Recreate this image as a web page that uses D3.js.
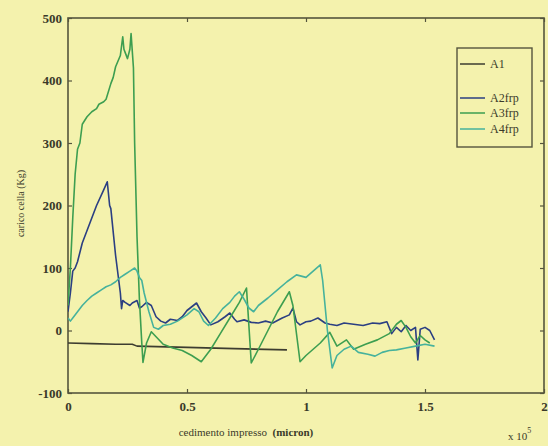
<!DOCTYPE html>
<html>
<head>
<meta charset="utf-8">
<script src="https://cdn.jsdelivr.net/npm/d3@7"></script>
<style>
body { margin:0; background:#f4f2ad; }
svg { display:block; }
text { font-family:"Liberation Serif", "DejaVu Serif", serif; fill:#3a3a2a; }
</style>
</head>
<body>
<div id="chart"></div>
<script>
// x in units of 1e5 micron, y in Kg
var seriesNames = ["A1", "A2frp", "A3frp", "A4frp"];
var xTicks = [0, 0.5, 1, 1.5, 2];
var yTicks = [-100, 0, 100, 200, 300, 400, 500];

var A1 = [[0,-20],[0.1,-21],[0.2,-22],[0.27,-22],[0.29,-25],[0.5,-27],[0.7,-29],[0.92,-31]];

var A2frp = [[0,30],[0.01,60],[0.02,95],[0.03,100],[0.04,110],[0.06,140],[0.09,170],[0.12,200],[0.15,225],[0.165,238],
  [0.175,200],[0.18,195],[0.2,120],[0.22,60],[0.225,35],[0.23,48],[0.24,45],[0.26,40],[0.27,44],[0.29,48],[0.3,36],[0.31,38],[0.33,45],
  [0.35,40],[0.37,22],[0.39,15],[0.41,12],[0.43,18],[0.46,16],[0.48,22],[0.5,32],[0.52,38],[0.54,44],[0.56,30],
  [0.58,20],[0.6,9],[0.63,14],[0.66,22],[0.68,28],[0.7,18],[0.71,14],[0.74,17],[0.77,13],[0.8,12],[0.83,15],
  [0.86,12],[0.9,20],[0.93,25],[0.945,36],[0.96,14],[0.975,9],[1.0,14],[1.02,15],[1.05,20],[1.08,12],[1.1,10],
  [1.13,8],[1.16,12],[1.2,10],[1.24,8],[1.28,12],[1.31,11],[1.34,14],[1.36,-5],[1.38,5],[1.4,-2],[1.42,8],
  [1.44,0],[1.46,5],[1.47,-47],[1.48,2],[1.5,5],[1.52,0],[1.54,-15]];

var A3frp = [[0,40],[0.01,100],[0.02,180],[0.03,250],[0.04,290],[0.05,300],[0.06,330],[0.08,342],[0.1,350],
  [0.12,355],[0.13,362],[0.15,366],[0.16,370],[0.18,395],[0.19,405],[0.2,422],[0.22,440],[0.23,470],[0.235,450],[0.24,445],[0.25,435],[0.26,450],[0.265,475],
  [0.275,420],[0.28,300],[0.29,150],[0.3,50],[0.31,-20],[0.315,-51],[0.33,-20],[0.35,-2],[0.37,-10],[0.4,-22],
  [0.44,-28],[0.48,-32],[0.52,-40],[0.56,-50],[0.6,-30],[0.64,-5],[0.68,20],[0.72,45],[0.75,68],[0.77,-52],
  [0.8,-30],[0.84,0],[0.88,30],[0.93,62],[0.945,40],[0.975,-50],[1.0,-40],[1.03,-30],[1.06,-20],[1.1,-3],
  [1.13,-25],[1.17,-15],[1.2,-30],[1.25,-22],[1.3,-15],[1.35,-5],[1.38,10],[1.4,16],[1.42,5],[1.44,-10],
  [1.46,-20],[1.48,-8],[1.5,-15],[1.52,-20]];

var A4frp = [[0,20],[0.01,15],[0.02,20],[0.04,30],[0.06,40],[0.08,48],[0.1,55],[0.12,60],[0.14,65],[0.16,70],
  [0.18,73],[0.2,78],[0.22,85],[0.24,90],[0.26,95],[0.28,100],[0.29,95],[0.3,85],[0.31,80],[0.32,60],[0.34,30],
  [0.36,5],[0.38,2],[0.4,8],[0.43,10],[0.46,15],[0.5,25],[0.53,35],[0.55,30],[0.57,15],[0.59,8],[0.62,20],
  [0.65,35],[0.68,45],[0.7,55],[0.72,62],[0.74,50],[0.76,36],[0.78,30],[0.8,40],[0.84,52],[0.88,65],[0.92,78],
  [0.96,89],[1.0,85],[1.03,95],[1.06,105],[1.07,80],[1.09,0],[1.11,-60],[1.13,-40],[1.16,-30],[1.19,-25],
  [1.22,-35],[1.26,-38],[1.29,-41],[1.32,-35],[1.35,-32],[1.38,-31],[1.42,-28],[1.46,-25],[1.5,-22],[1.54,-25]];

var allSeries = [A1, A2frp, A3frp, A4frp];
var colors = ["#3d3d30", "#2b3f82", "#3d9e50", "#46b29c"];

var W = 548, H = 446;
var margin = {top: 18, right: 4, bottom: 53, left: 68};
var width = W - margin.left - margin.right,
    height = H - margin.top - margin.bottom;

var svg = d3.select("#chart").append("svg")
    .attr("width", W)
    .attr("height", H);

var g = svg.append("g")
    .attr("transform", "translate(" + margin.left + "," + margin.top + ")");

var x = d3.scaleLinear().domain([0, 2]).range([0, width]);
var y = d3.scaleLinear().domain([-100, 500]).range([height, 0]);

var line = d3.line()
    .x(function(d) { return x(d[0]); })
    .y(function(d) { return y(d[1]); });

// axes with inward ticks like matlab
var axisColor = "#55553d";
function styleAxis(sel) {
  sel.select(".domain").remove();
  sel.selectAll("line").attr("stroke", axisColor).attr("stroke-width", 1.2);
  sel.selectAll("text")
    .style("font-size", "13px")
    .style("font-weight", "bold")
    .attr("fill", "#3a3a2a");
}

g.append("g")
    .attr("transform", "translate(0," + height + ")")
    .call(d3.axisBottom(x).tickValues(xTicks).tickSize(-4).tickPadding(9).tickFormat(function(d) { return String(d); }))
    .call(styleAxis);

g.append("g")
    .call(d3.axisLeft(y).tickValues(yTicks).tickSize(-4).tickPadding(6).tickFormat(function(d) { return String(d); }))
    .call(styleAxis);

g.append("g")
    .call(d3.axisTop(x).tickValues(xTicks).tickSize(-4).tickFormat(""))
    .call(styleAxis);

g.append("g")
    .attr("transform", "translate(" + width + ",0)")
    .call(d3.axisRight(y).tickValues(yTicks).tickSize(-4).tickFormat(""))
    .call(styleAxis);

g.append("rect")
    .attr("width", width)
    .attr("height", height)
    .attr("fill", "none")
    .attr("stroke", axisColor)
    .attr("stroke-width", 1.6);

// series
g.append("clipPath").attr("id", "clip")
  .append("rect").attr("width", width).attr("height", height);

allSeries.forEach(function(s, i) {
  g.append("path")
    .datum(s)
    .attr("clip-path", "url(#clip)")
    .attr("fill", "none")
    .attr("stroke", colors[i])
    .attr("stroke-width", 1.6)
    .attr("stroke-linejoin", "round")
    .attr("d", line);
});

// labels
svg.append("text")
    .attr("transform", "translate(24," + (margin.top + height / 2 - 2) + ") rotate(-90)")
    .attr("text-anchor", "middle")
    .style("font-size", "10px")
    .text("carico cella (Kg)");

svg.append("text")
    .attr("x", 246)
    .attr("y", 436)
    .attr("text-anchor", "middle")
    .style("font-size", "11px")
    .html("cedimento impresso&#160;&#160;<tspan style='font-weight:bold'>(micron)</tspan>");

var mult = svg.append("text")
    .attr("x", 508)
    .attr("y", 440)
    .style("font-size", "11px");
mult.append("tspan").text("x 10");
mult.append("tspan").attr("dy", -7).style("font-size", "8px").text("5");

// legend
var legend = svg.append("g");
legend.append("rect")
    .attr("x", 457).attr("y", 48)
    .attr("width", 75).attr("height", 99)
    .attr("fill", "#f4f2ad")
    .attr("stroke", axisColor)
    .attr("stroke-width", 1.4);
var legY = [64, 98, 113, 129];
seriesNames.forEach(function(n, i) {
  legend.append("line")
    .attr("x1", 460).attr("x2", 485)
    .attr("y1", legY[i]).attr("y2", legY[i])
    .attr("stroke", colors[i])
    .attr("stroke-width", 1.5);
  legend.append("text")
    .attr("x", 490)
    .attr("y", legY[i] + 4)
    .style("font-size", "12px")
    .text(n);
});
</script>
</body>
</html>
